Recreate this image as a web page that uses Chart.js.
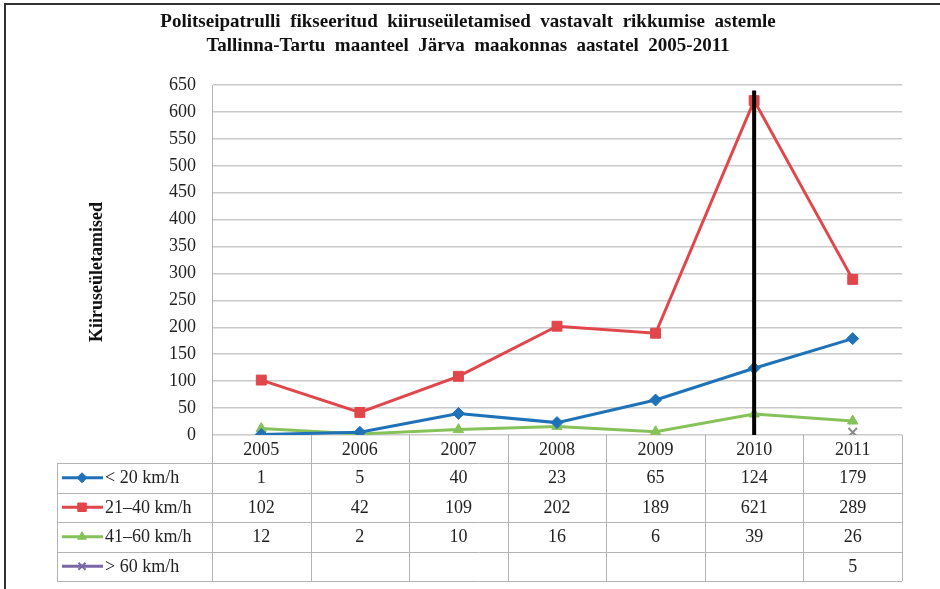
<!DOCTYPE html>
<html>
<head>
<meta charset="utf-8">
<script src="https://cdn.jsdelivr.net/npm/chart.js@4.4.0/dist/chart.umd.min.js"></script>
<style>
    html, body { margin: 0; padding: 0; background: #fff; }
    #wrap { width: 940px; height: 589px; position: relative; }
</style>
</head>
<body>
<div id="wrap"><canvas id="chart"></canvas></div>
<script>
// data
var years = ['2005', '2006', '2007', '2008', '2009', '2010', '2011'];
var seriesNames = ['< 20 km/h', '21\u201340 km/h', '41\u201360 km/h', '> 60 km/h'];
var under20 = [1, 5, 40, 23, 65, 124, 179];
var from21to40 = [102, 42, 109, 202, 189, 621, 289];
var from41to60 = [12, 2, 10, 16, 6, 39, 26];
var over60 = [null, null, null, null, null, null, 5];
var yMin = 0, yMax = 650, yStep = 50;
var markYear = '2010';
var markFrom = 0, markTo = 640;

var titleLines = [
    'Politseipatrulli  fikseeritud  kiiruseületamised  vastavalt  rikkumise  astemle',
    'Tallinna-Tartu  maanteel  Järva  maakonnas  aastatel  2005-2011'
];
var yTitle = 'Kiiruseületamised';

var serif = '"Liberation Serif", "Times New Roman", serif';
var colors = ['#1f72b8', '#e0464a', '#86c25a', '#7a68a6'];
var styles = [
    { pointStyle: 'rectRot', radius: 6 },
    { pointStyle: 'rect', radius: 7 },
    { pointStyle: 'triangle', radius: 6 },
    { pointStyle: 'crossRot', radius: 6 }
];
var seriesData = [under20, from21to40, from41to60, over60];

function makeDataset(i) {
    return {
        label: seriesNames[i],
        data: seriesData[i],
        borderColor: colors[i],
        backgroundColor: colors[i],
        pointBorderColor: i == 3 ? '#8a8a8a' : colors[i],
        pointBackgroundColor: colors[i],
        pointStyle: styles[i].pointStyle,
        pointRadius: styles[i].radius,
        pointBorderWidth: i == 3 ? 2 : 1,
        borderWidth: 3,
        tension: 0,
        spanGaps: false
    };
}

var datasets = [{
    label: 'mark',
    data: [{ x: markYear, y: markFrom }, { x: markYear, y: markTo }],
    borderColor: '#000',
    borderWidth: 4,
    pointRadius: 0
}];
for (i = 0; i < seriesNames.length; i++) {
    datasets.push(makeDataset(i));
}

// title, frame and data table under the plot
var extrasPlugin = {
    id: 'extras',
    beforeDraw: function(chart) {
        var ctx = chart.ctx;
        ctx.save();
        ctx.strokeStyle = '#333';
        ctx.lineWidth = 2;
        ctx.beginPath();
        ctx.moveTo(5, chart.height);
        ctx.lineTo(5, 4);
        ctx.lineTo(chart.width, 4);
        ctx.stroke();

        ctx.fillStyle = '#111';
        ctx.textAlign = 'center';
        ctx.textBaseline = 'middle';
        ctx.font = 'bold 19px ' + serif;
        ctx.fillText(titleLines[0], 468, 22);
        ctx.fillText(titleLines[1], 468, 46);

        ctx.translate(97, 272);
        ctx.rotate(-Math.PI / 2);
        ctx.font = 'bold 18px ' + serif;
        ctx.fillText(yTitle, 0, 0);
        ctx.restore();
    },
    afterDraw: function(chart) {
        var ctx = chart.ctx;
        var area = chart.chartArea;
        var x = chart.scales.x;
        var colW = x.getPixelForValue(1) - x.getPixelForValue(0);
        var left = area.left, right = area.right, top = area.bottom;
        var headerH = 28, rowH = 29.5;
        var labelLeft = 57;
        var bottom = top + headerH + seriesNames.length * rowH;

        ctx.save();
        ctx.strokeStyle = '#b4b4b4';
        ctx.lineWidth = 1;
        for (i = 0; i <= years.length; i++) {
            var vx = Math.round(left + i * colW) + 0.5;
            ctx.beginPath();
            ctx.moveTo(vx, top);
            ctx.lineTo(vx, bottom);
            ctx.stroke();
        }
        ctx.beginPath();
        ctx.moveTo(labelLeft + 0.5, top + headerH);
        ctx.lineTo(labelLeft + 0.5, bottom);
        ctx.stroke();
        for (r = 0; r <= seriesNames.length; r++) {
            var hy = Math.round(top + headerH + r * rowH) + 0.5;
            ctx.beginPath();
            ctx.moveTo(labelLeft, hy);
            ctx.lineTo(right, hy);
            ctx.stroke();
        }

        ctx.fillStyle = '#222';
        ctx.font = '18px ' + serif;
        ctx.textAlign = 'center';
        ctx.textBaseline = 'middle';
        for (i = 0; i < years.length; i++) {
            ctx.fillText(years[i], x.getPixelForValue(i), top + headerH / 2 + 1);
        }

        for (r = 0; r < seriesNames.length; r++) {
            var cy = top + headerH + r * rowH + rowH / 2;
            ctx.strokeStyle = colors[r];
            ctx.lineWidth = 3;
            ctx.beginPath();
            ctx.moveTo(labelLeft + 5, cy);
            ctx.lineTo(labelLeft + 46, cy);
            ctx.stroke();
            ctx.fillStyle = colors[r];
            ctx.lineWidth = r == 3 ? 2 : 1;
            Chart.helpers.drawPoint(ctx, {
                pointStyle: styles[r].pointStyle,
                radius: styles[r].radius - 1,
                rotation: 0,
                borderWidth: 1
            }, labelLeft + 25, cy);

            ctx.fillStyle = '#222';
            ctx.textAlign = 'left';
            ctx.fillText(seriesNames[r], labelLeft + 48, cy + 1);
            ctx.textAlign = 'center';
            for (i = 0; i < years.length; i++) {
                var v = seriesData[r][i];
                if (v !== null) ctx.fillText(String(v), x.getPixelForValue(i), cy + 1);
            }
        }
        ctx.restore();
    }
};

var ctx = document.getElementById('chart').getContext('2d');
var chart = new Chart(ctx, {
    type: 'line',
    data: { labels: years, datasets: datasets },
    options: {
        responsive: true,
        maintainAspectRatio: false,
        animation: false,
        layout: { padding: { left: 0, right: 38, top: 85, bottom: 154 } },
        plugins: {
            legend: { display: false },
            tooltip: { enabled: false },
            title: { display: false }
        },
        scales: {
            x: {
                display: false,
                offset: true
            },
            y: {
                min: yMin,
                max: yMax,
                ticks: {
                    stepSize: yStep,
                    padding: 16,
                    color: '#222',
                    font: { family: serif, size: 18 }
                },
                grid: { color: '#cacaca', lineWidth: 1.5, drawTicks: false },
                border: { color: '#b4b4b4', width: 1 },
                afterFit: function(scale) { scale.width = 212; }
            }
        }
    },
    plugins: [extrasPlugin]
});
</script>
</body>
</html>
